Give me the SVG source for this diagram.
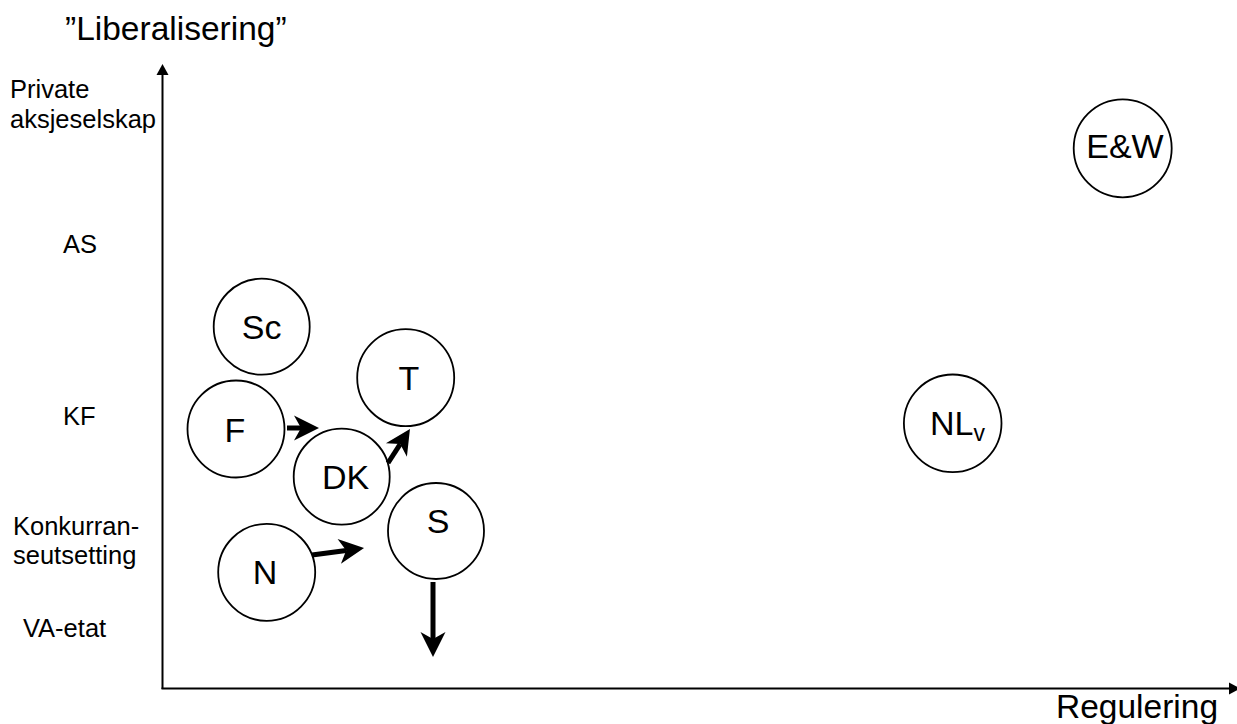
<svg xmlns="http://www.w3.org/2000/svg" width="1237" height="724" viewBox="0 0 1237 724">
<style>
text{font-family:"Liberation Sans",Arial,sans-serif;fill:#000}
.ax{font-size:33.5px}
.lbl{font-size:25.5px}
.nt{font-size:34px;text-anchor:middle}
.node circle{fill:#fff;stroke:#000;stroke-width:1.8}
.axis{stroke:#000;stroke-width:2;fill:none}
.mv{stroke:#000;stroke-width:5;fill:none;marker-end:url(#big)}
</style>
<defs>
<marker id="big" markerUnits="userSpaceOnUse" viewBox="-8 -13 27 26" refX="0" refY="0" markerWidth="27" markerHeight="26" orient="auto">
<path d="M18,0 L-7,-12.5 L0,0 L-7,12.5 Z" fill="#000"/>
</marker>
<marker id="ah" markerUnits="userSpaceOnUse" viewBox="0 -7 11 14" refX="0" refY="0" markerWidth="11" markerHeight="14" orient="auto">
<path d="M0,-6 L11,0 L0,6 Z" fill="#000"/>
</marker>
</defs>
<g id="titles">
<text class="ax" x="65" y="40">”Liberalisering”</text>
<text class="ax" x="1056" y="718">Regulering</text>
<text class="lbl" x="10" y="98">Private</text>
<text class="lbl" x="10" y="128">aksjeselskap</text>
<text class="lbl" x="63" y="253">AS</text>
<text class="lbl" x="63" y="425">KF</text>
<text class="lbl" x="13" y="535">Konkurran-</text>
<text class="lbl" x="13" y="564">seutsetting</text>
<text class="lbl" x="23" y="637">VA-etat</text>
</g>
<g id="axes">
<path class="axis" d="M162.5,689 L162.5,75" marker-end="url(#ah)"/>
<path class="axis" d="M161.5,688.5 L1229,688.5" marker-end="url(#ah)"/>
</g>
<g id="node-Sc" class="node"><circle cx="261.7" cy="326.7" r="48"/><text class="nt" x="261.7" y="339">Sc</text></g>
<g id="node-F" class="node"><circle cx="236" cy="429" r="48.5"/><text class="nt" x="235" y="442">F</text></g>
<g id="node-T" class="node"><circle cx="405.7" cy="377.7" r="48.5"/><text class="nt" x="409" y="390">T</text></g>
<g id="node-DK" class="node"><circle cx="341.7" cy="476.7" r="48"/><text class="nt" x="345.5" y="489">DK</text></g>
<g id="node-S" class="node"><circle cx="436" cy="531" r="48"/><text class="nt" x="438" y="533">S</text></g>
<g id="node-N" class="node"><circle cx="266.7" cy="572.3" r="48.5"/><text class="nt" x="265" y="584">N</text></g>
<g id="node-NL" class="node"><circle cx="952.7" cy="423.3" r="48.8"/><text x="930" y="435" style="font-size:34px">NL<tspan style="font-size:23px" dy="6">v</tspan></text></g>
<g id="node-EW" class="node"><circle cx="1122.7" cy="148.3" r="49"/><text class="nt" x="1125" y="158">E&amp;W</text></g>
<g id="connectors">
<path class="mv" d="M287,428 L301,428"/>
<path class="mv" d="M388,463 L400.2,444.1"/>
<path class="mv" d="M312,555 L346.2,550.4"/>
<path class="mv" d="M433,582 L433,639"/>
</g>
</svg>
